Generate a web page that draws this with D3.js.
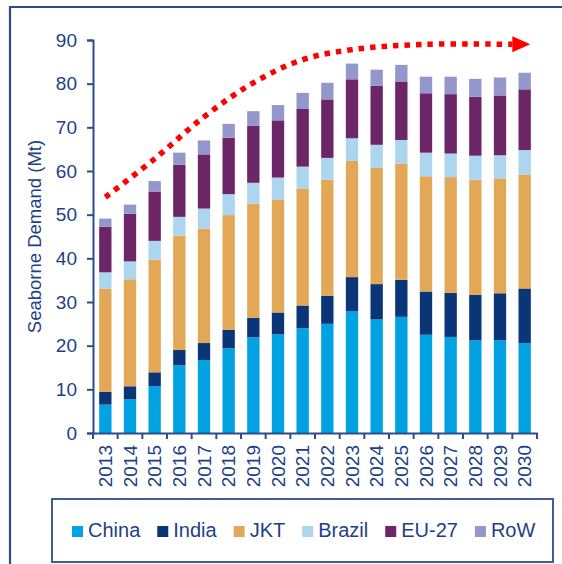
<!DOCTYPE html>
<html>
<head>
<meta charset="utf-8">
<script src="https://cdn.jsdelivr.net/npm/d3@7"></script>
<style>
  body { margin: 0; background: #fff; }
  svg { display: block; font-family: "Liberation Sans", Arial, sans-serif; }
</style>
</head>
<body>
<svg id="chart" width="562" height="564"></svg>
<script>
// categories and series (Mt)
const years = ['2013','2014','2015','2016','2017','2018','2019','2020','2021','2022','2023','2024','2025','2026','2027','2028','2029','2030'];
const china  = [6.5, 7.7, 10.7, 15.5, 16.7, 19.4, 21.9, 22.6, 24.0, 25.0, 27.9, 26.0, 26.6, 22.5, 22.0, 21.2, 21.2, 20.6];
const india  = [2.9, 3.0, 3.2, 3.5, 3.9, 4.2, 4.5, 5.0, 5.2, 6.4, 7.8, 8.1, 8.5, 9.9, 10.1, 10.4, 10.8, 12.5];
const jkt    = [23.7, 24.5, 25.8, 26.2, 26.2, 26.3, 26.1, 25.9, 26.8, 26.6, 26.6, 26.6, 26.6, 26.4, 26.5, 26.4, 26.3, 26.1];
const brazil = [3.7, 4.1, 4.3, 4.3, 4.6, 4.8, 4.8, 5.0, 5.0, 5.0, 5.2, 5.3, 5.4, 5.4, 5.4, 5.5, 5.3, 5.6];
const eu27   = [10.4, 10.9, 11.3, 11.9, 12.4, 12.9, 13.1, 13.1, 13.2, 13.4, 13.5, 13.5, 13.4, 13.6, 13.6, 13.5, 13.7, 13.9];
const row    = [1.9, 2.1, 2.4, 2.8, 3.2, 3.2, 3.3, 3.5, 3.7, 3.8, 3.6, 3.7, 3.8, 3.8, 4.0, 4.1, 4.1, 3.8];
const seriesNames = ['China', 'India', 'JKT', 'Brazil', 'EU-27', 'RoW'];
const yTicks = [0, 10, 20, 30, 40, 50, 60, 70, 80, 90];
// trend annotation (year position, Mt)
const trendYears  = [2013, 2015, 2017, 2019, 2021, 2023, 2026, 2029.5];
const trendValues = [54, 62.8, 72.4, 80.2, 85.5, 87.8, 89, 89];

const colors = ['#00a2e1', '#0a3678', '#e3a857', '#acd5f0', '#6c2566', '#9497cb'];
const textColor = '#213f86';
const frameColor = '#2d4c8c';

const svg = d3.select('#chart');
const margin = {left: 93, top: 40, right: 25, bottom: 131};
const w = 562 - margin.left - margin.right;
const h = 564 - margin.top - margin.bottom;

// outer frame (runs off the right/bottom edges)
svg.append('path')
  .attr('d', 'M10,566 L10,7 L566,7')
  .attr('fill', 'none')
  .attr('stroke', frameColor)
  .attr('stroke-width', 2.2);

// table for the stack
const table = years.map((y, i) => ({
  year: y, 'China': china[i], 'India': india[i], 'JKT': jkt[i],
  'Brazil': brazil[i], 'EU-27': eu27[i], 'RoW': row[i]
}));
const stacked = d3.stack().keys(seriesNames)(table);

const x = d3.scaleBand().domain(years).range([0, w]).paddingInner(0.5).paddingOuter(0.25);
const y = d3.scaleLinear().domain([0, 90]).range([h, 0]);
const color = d3.scaleOrdinal().domain(seriesNames).range(colors);

const g = svg.append('g').attr('transform', `translate(${margin.left},${margin.top})`);

// bars
g.append('g').selectAll('g')
  .data(stacked)
  .enter().append('g')
    .attr('fill', d => color(d.key))
  .selectAll('rect')
  .data(d => d)
  .enter().append('rect')
    .attr('x', d => x(d.data.year))
    .attr('y', d => y(d[1]))
    .attr('width', x.bandwidth())
    .attr('height', d => y(d[0]) - y(d[1]));

// y axis
const yAxis = g.append('g')
  .call(d3.axisLeft(y).tickValues(yTicks).tickSize(6).tickPadding(10));
yAxis.select('.domain').attr('stroke', frameColor).attr('stroke-width', 2);
yAxis.selectAll('.tick line').attr('stroke', frameColor).attr('stroke-width', 2);
yAxis.selectAll('.tick text')
  .attr('fill', textColor)
  .attr('font-size', 19)
  .attr('font-family', '"Liberation Sans", Arial, sans-serif');

// x axis: labels centred on bars, ticks between bands
const xAxis = g.append('g')
  .attr('transform', `translate(0,${h})`)
  .call(d3.axisBottom(x).tickSize(0));
xAxis.select('.domain').attr('stroke', frameColor).attr('stroke-width', 2);
xAxis.selectAll('.tick text')
  .attr('transform', 'rotate(-90)')
  .attr('x', -12)
  .attr('y', 0)
  .attr('dy', '0.35em')
  .attr('text-anchor', 'end')
  .attr('fill', textColor)
  .attr('font-size', 19)
  .attr('font-family', '"Liberation Sans", Arial, sans-serif');
const step = x.step();
xAxis.append('g').selectAll('line')
  .data(d3.range(years.length + 1))
  .enter().append('line')
    .attr('x1', i => x(years[0]) - step * 0.25 + i * step)
    .attr('x2', i => x(years[0]) - step * 0.25 + i * step)
    .attr('y1', 0)
    .attr('y2', 6)
    .attr('stroke', frameColor)
    .attr('stroke-width', 2);

// y axis title
svg.append('text')
  .attr('transform', `translate(41,${margin.top + h / 2}) rotate(-90)`)
  .attr('text-anchor', 'middle')
  .attr('fill', textColor)
  .attr('font-size', 18.5)
  .text('Seaborne Demand (Mt)');

// red dotted trend arrow
const xYear = d3.scaleLinear()
  .domain([2013, 2030])
  .range([x('2013') + x.bandwidth() / 2, x('2030') + x.bandwidth() / 2]);
const trend = trendYears.map((t, i) => [xYear(t), y(trendValues[i])]);
g.append('path')
  .attr('d', d3.line().curve(d3.curveCatmullRom)(trend))
  .attr('fill', 'none')
  .attr('stroke', '#ff0000')
  .attr('stroke-width', 5.5)
  .attr('stroke-dasharray', '5.5,6');
const tip = trend[trend.length - 1];
g.append('path')
  .attr('d', `M${tip[0]},${tip[1] - 8} L${tip[0] + 18},${tip[1]} L${tip[0]},${tip[1] + 8} Z`)
  .attr('fill', '#ff0000');

// legend box
svg.append('rect')
  .attr('x', 52).attr('y', 499)
  .attr('width', 501).attr('height', 63)
  .attr('fill', 'none')
  .attr('stroke', frameColor)
  .attr('stroke-width', 1.8);

const legend = svg.append('g').attr('transform', 'translate(72,537)');
let lx = 0;
seriesNames.forEach((name, i) => {
  const item = legend.append('g').attr('transform', `translate(${lx},0)`);
  item.append('rect')
    .attr('x', 0).attr('y', -11)
    .attr('width', 11).attr('height', 11)
    .attr('fill', colors[i]);
  const t = item.append('text')
    .attr('x', 16).attr('y', 0)
    .attr('fill', textColor)
    .attr('font-size', 20)
    .text(name);
  lx += 16 + t.node().getComputedTextLength() + 17;
});
</script>
</body>
</html>
